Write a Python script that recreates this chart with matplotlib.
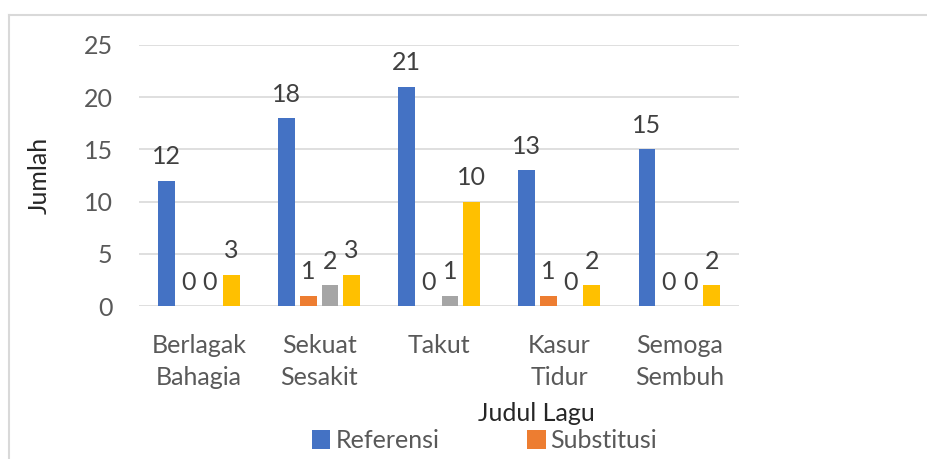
import matplotlib
matplotlib.use("Agg")
import matplotlib.pyplot as plt
import numpy as np
from matplotlib.lines import Line2D

plt.rcParams['font.family'] = ['Lato', 'DejaVu Sans']

# data
judul = ['Berlagak\nBahagia', 'Sekuat\nSesakit', 'Takut', 'Kasur\nTidur', 'Semoga\nSembuh']
referensi = [12, 18, 21, 13, 15]
substitusi = [0, 1, 0, 1, 0]
elipsis = [0, 2, 1, 0, 0]
konjungsi = [3, 3, 10, 2, 2]
series = [('Referensi', referensi, '#4472C4'),
          ('Substitusi', substitusi, '#ED7D31'),
          ('Elipsis', elipsis, '#A5A5A5'),
          ('Konjungsi', konjungsi, '#FFC000')]

fs = 18
fig = plt.figure(figsize=(9.28, 4.59), dpi=100)
ax = fig.add_axes([0.1498, 0.3333, 0.647, 0.5687])

x = np.arange(len(judul))
w = 0.14
step = 0.18
bars = []
for i, (name, vals, col) in enumerate(series):
    b = ax.bar(x + (i - 1.5) * step, vals, w, color=col, label=name, zorder=3)
    ax.bar_label(b, padding=9, fontsize=fs, color='#404040')
    bars.append(b)

ax.set_xlim(-0.5, len(judul) - 0.5)
ax.set_ylim(0, 25)
ax.set_yticks(range(0, 26, 5))
ax.set_xticks(x)
ax.set_xticklabels(judul, linespacing=1.5)
ax.tick_params(axis='both', length=0, labelsize=fs, labelcolor='#595959')
ax.tick_params(axis='x', pad=20)
ax.tick_params(axis='y', pad=19)
ax.grid(axis='y', color='#D9D9D9', lw=1.2, zorder=0)
for s in ax.spines.values():
    s.set_visible(False)

ax.set_ylabel('Jumlah', fontsize=fs, color='#262626')
ax.yaxis.set_label_coords(-0.147, 0.5)
fig.text(0.5776, 0.1, 'Judul Lagu', fontsize=fs, ha='center', va='center',
         color='#262626')

fig.legend(bars[:2], ['Referensi', 'Substitusi'], ncol=2, frameon=False,
           loc='center', bbox_to_anchor=(0.522, 0.04), fontsize=fs,
           handlelength=0.75, handleheight=0.75, handletextpad=0.2,
           columnspacing=3.5, labelcolor='#595959', borderpad=0)

# outer chart frame (cut by the image edge)
fig.add_artist(Line2D([0.0097, 0.0097], [0, 0.967], color='#D9D9D9', lw=1.5))
fig.add_artist(Line2D([0.0097, 1], [0.967, 0.967], color='#D9D9D9', lw=1.5))

fig.savefig('out.png', dpi=100)
